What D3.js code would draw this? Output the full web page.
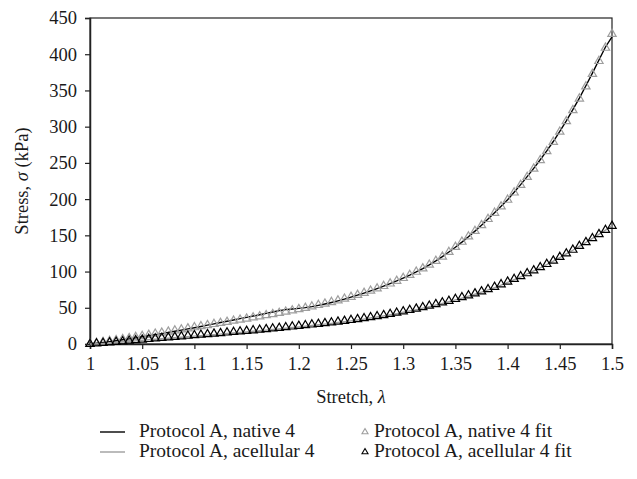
<!DOCTYPE html>
<html>
<head>
<meta charset="utf-8">
<script src="https://cdn.jsdelivr.net/npm/d3@7"></script>
<style>
  body { margin: 0; background: #fff; }
  text { font-family: "Liberation Serif", "DejaVu Serif", serif; fill: #1a1a1a; }
</style>
</head>
<body>
<svg id="chart" width="637" height="479"></svg>
<script>
// stretch values (lambda)
var stretch = [1, 1.00625, 1.0125, 1.01875, 1.025, 1.03125, 1.0375, 1.04375, 1.05, 1.05625, 1.0625, 1.06875, 1.075, 1.08125, 1.0875, 1.09375,
  1.1, 1.10625, 1.1125, 1.11875, 1.125, 1.13125, 1.1375, 1.14375, 1.15, 1.15625, 1.1625, 1.16875, 1.175, 1.18125, 1.1875, 1.19375,
  1.2, 1.20625, 1.2125, 1.21875, 1.225, 1.23125, 1.2375, 1.24375, 1.25, 1.25625, 1.2625, 1.26875, 1.275, 1.28125, 1.2875, 1.29375,
  1.3, 1.30625, 1.3125, 1.31875, 1.325, 1.33125, 1.3375, 1.34375, 1.35, 1.35625, 1.3625, 1.36875, 1.375, 1.38125, 1.3875, 1.39375,
  1.4, 1.40625, 1.4125, 1.41875, 1.425, 1.43125, 1.4375, 1.44375, 1.45, 1.45625, 1.4625, 1.46875, 1.475, 1.48125, 1.4875, 1.49375, 1.5];

// stress (kPa)
var native4 = [0, 1.0, 2.1, 3.3, 4.5, 5.8, 7.1, 8.5, 10,
  11.4, 12.9, 14.4, 16, 17.6, 19.2, 20.8, 22.5,
  24.2, 26, 27.8, 29.6, 31.4, 33.2, 35, 36.8,
  38.6, 40.4, 42.3, 44.2, 46.0, 47.4, 48.4, 49.2,
  50.2, 51.6, 53.3, 55.2, 57.3, 59.6, 62.0, 64.6,
  67.4, 70.3, 73.3, 76.5, 79.8, 83.3, 87.0, 91,
  95, 99.4, 104.2, 109.3, 114.8, 120.6, 127, 133.6,
  140.6, 148, 155.8, 164, 172.5, 181.2, 190, 199.2,
  209.4, 220, 231, 242.5, 254.3, 266.5, 279.5, 293.5,
  308, 323.5, 339.5, 356.5, 374, 392, 410, 424];

var acellular4 = [0, 0.4, 0.9, 1.5, 2.1, 2.8, 3.5, 4.3, 5.1,
  5.8, 6.5, 7.2, 7.9, 8.6, 9.3, 10.0, 10.8,
  11.5, 12.2, 12.9, 13.6, 14.4, 15.2, 16.0, 16.8,
  17.6, 18.4, 19.2, 20.0, 20.9, 21.8, 22.7, 23.7,
  24.6, 25.5, 26.5, 27.5, 28.5, 29.6, 30.7, 31.9,
  33.1, 34.4, 35.8, 37.2, 38.7, 40.3, 42.0, 43.8,
  45.6, 47.5, 49.5, 51.6, 53.8, 56.0, 58.4, 60.9,
  63.4, 66.0, 68.7, 71.6, 74.6, 77.8, 81.3, 85.0,
  88.8, 92.7, 96.7, 100.8, 105.1, 109.6, 114.3, 119.3,
  124.3, 129.4, 134.7, 140.1, 145.7, 151.4, 157.2, 163];

var native4fit = [0, 1.3, 2.6, 4.0, 5.3, 6.7, 8.1, 9.5, 11,
  12.5, 14.0, 15.5, 17.0, 18.5, 20.0, 21.5, 23,
  24.5, 26.0, 27.5, 29.0, 30.5, 32.0, 33.5, 35,
  36.5, 38.0, 39.6, 41.2, 42.8, 44.5, 46.2, 48,
  49.8, 51.7, 53.7, 55.7, 57.8, 60.0, 62.4, 65,
  67.7, 70.5, 73.5, 76.6, 79.9, 83.4, 87.1, 91,
  95.2, 99.6, 104.3, 109.3, 114.7, 120.5, 127, 134,
  141, 148.3, 156, 164, 172.4, 181, 189.8, 199,
  209, 219.5, 230.5, 242, 253.8, 266, 279, 293,
  307.5, 322.7, 338.7, 355.4, 372.7, 390.5, 408.8, 428];

var acellular4fit = [0, 0.7, 1.4, 2.1, 2.9, 3.6, 4.4, 5.2, 6,
  6.75, 7.5, 8.25, 9, 9.75, 10.5, 11.25, 12,
  12.75, 13.5, 14.25, 15, 15.75, 16.5, 17.25, 18,
  18.8, 19.6, 20.45, 21.3, 22.2, 23.1, 24.05, 25,
  25.9, 26.8, 27.75, 28.7, 29.7, 30.75, 31.85, 33,
  34.2, 35.5, 36.9, 38.3, 39.8, 41.4, 43.1, 45,
  46.8, 48.7, 50.7, 52.8, 55, 57.2, 59.5, 62,
  64.5, 67.1, 69.8, 72.6, 75.6, 78.8, 82.3, 86,
  89.7, 93.5, 97.5, 101.6, 105.9, 110.3, 115, 120,
  124.9, 130, 135.2, 140.5, 146, 151.6, 157.3, 163];

var xTicks = [1, 1.05, 1.1, 1.15, 1.2, 1.25, 1.3, 1.35, 1.4, 1.45, 1.5];
var yTicks = [0, 50, 100, 150, 200, 250, 300, 350, 400, 450];

var svg = d3.select('#chart');
var mLeft = 90, mRight = 612, mTop = 18, mBottom = 344;
var grey = '#9e9e9e';

var x = d3.scaleLinear().domain([1, 1.5]).range([mLeft, mRight]);
var y = d3.scaleLinear().domain([0, 450]).range([mBottom, mTop]);

// frame
svg.append('rect')
    .attr('x', mLeft).attr('y', mTop)
    .attr('width', mRight - mLeft).attr('height', mBottom - mTop)
    .attr('fill', 'none').attr('stroke', '#222').attr('stroke-width', 1.2);

var xAxis = svg.append('g')
    .attr('transform', 'translate(0,' + mBottom + ')')
    .call(d3.axisBottom(x).tickValues(xTicks).tickSize(5).tickPadding(8).tickFormat(d3.format('')));
var yAxis = svg.append('g')
    .attr('transform', 'translate(' + mLeft + ',0)')
    .call(d3.axisLeft(y).tickValues(yTicks).tickSize(5).tickPadding(8));

[xAxis, yAxis].forEach(function(g) {
    g.select('.domain').attr('stroke', '#222').attr('stroke-width', 1.5);
    g.selectAll('.tick line').attr('stroke', '#222').attr('stroke-width', 1.2);
    g.selectAll('.tick text')
        .style('font-family', '"Liberation Serif", serif')
        .style('font-size', '18.5px')
        .attr('fill', '#1a1a1a');
});

// axis titles
svg.append('text')
    .attr('x', (mLeft + mRight) / 2).attr('y', 403)
    .attr('text-anchor', 'middle').style('font-size', '18.5px')
    .html('Stretch, <tspan font-style="italic">λ</tspan>');
svg.append('text')
    .attr('transform', 'translate(28,' + ((mTop + mBottom) / 2) + ') rotate(-90)')
    .attr('text-anchor', 'middle').style('font-size', '18.5px')
    .html('Stress, <tspan font-style="italic">σ</tspan> (kPa)');

var line = function(vals) {
    return d3.line()
        .x(function(d, i) { return x(stretch[i]); })
        .y(function(d) { return y(d); })(vals);
};

svg.append('path').attr('d', line(native4))
    .attr('fill', 'none').attr('stroke', '#000').attr('stroke-width', 1.4);
svg.append('path').attr('d', line(acellular4))
    .attr('fill', 'none').attr('stroke', grey).attr('stroke-width', 1.4);

var tri = d3.symbol().type(d3.symbolTriangle).size(30);

svg.append('g').selectAll('path')
    .data(native4fit)
    .enter().append('path')
        .attr('d', tri)
        .attr('transform', function(d, i) { return 'translate(' + x(stretch[i]) + ',' + y(d) + ')'; })
        .attr('fill', 'none').attr('stroke', grey).attr('stroke-width', 1.2);

svg.append('g').selectAll('path')
    .data(acellular4fit)
    .enter().append('path')
        .attr('d', tri)
        .attr('transform', function(d, i) { return 'translate(' + x(stretch[i]) + ',' + y(d) + ')'; })
        .attr('fill', 'none').attr('stroke', '#000').attr('stroke-width', 1.2);

// legend
var legend = svg.append('g').style('font-size', '19.5px');
var items = [
    {label: 'Protocol A, native 4', type: 'line', color: '#000', lx: 100, ly: 432},
    {label: 'Protocol A, acellular 4', type: 'line', color: grey, lx: 100, ly: 452},
    {label: 'Protocol A, native 4 fit', type: 'tri', color: grey, lx: 365, ly: 432},
    {label: 'Protocol A, acellular 4 fit', type: 'tri', color: '#000', lx: 365, ly: 452}
];
items.forEach(function(it) {
    if (it.type === 'line') {
        legend.append('line')
            .attr('x1', it.lx).attr('x2', it.lx + 25)
            .attr('y1', it.ly).attr('y2', it.ly)
            .attr('stroke', it.color).attr('stroke-width', 1.4);
        legend.append('text').attr('x', it.lx + 39).attr('y', it.ly + 5).text(it.label);
    } else {
        legend.append('path')
            .attr('d', d3.symbol().type(d3.symbolTriangle).size(16))
            .attr('transform', 'translate(' + it.lx + ',' + it.ly + ')')
            .attr('fill', 'none').attr('stroke', it.color).attr('stroke-width', 1.1);
        legend.append('text').attr('x', it.lx + 9).attr('y', it.ly + 5).text(it.label);
    }
});
</script>
</body>
</html>
